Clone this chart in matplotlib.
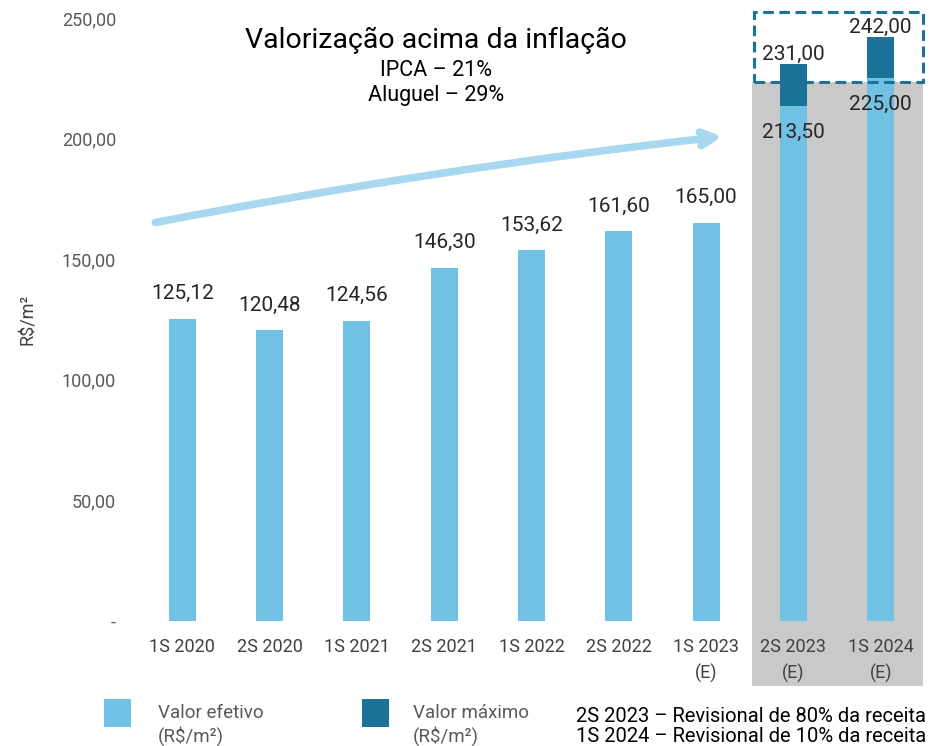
import matplotlib.pyplot as plt
from matplotlib.patches import Rectangle

# dados
periods = ['1S 2020', '2S 2020', '1S 2021', '2S 2021', '1S 2022', '2S 2022',
           '1S 2023\n(E)', '2S 2023\n(E)', '1S 2024\n(E)']
efetivo = [125.12, 120.48, 124.56, 146.30, 153.62, 161.60, 165.00, 213.50, 225.00]
maximo = [None, None, None, None, None, None, None, 231.00, 242.00]
yticks = [0, 50, 100, 150, 200, 250]
ytick_labels = ['-', '50,00', '100,00', '150,00', '200,00', '250,00']

light = '#71C1E5'
dark = '#1B7399'
arrow_c = '#A8D8EF'
gray = '#595959'
txt = '#262626'

plt.rcParams['font.family'] = ['Roboto', 'DejaVu Sans']

fig = plt.figure(figsize=(9.38, 7.46), dpi=100)
ax = fig.add_axes([130 / 938, 125 / 746, 803 / 938, 603 / 746])
ax.set_xlim(-0.6, 8.6)
ax.set_ylim(0, 250)

x = list(range(len(periods)))

# fundo cinza das projeções
ax.add_patch(Rectangle((6.53, -27), 1.95, 223.5 + 27, facecolor='#C9C9C9',
                       edgecolor='none', clip_on=False, zorder=0))
ax.add_patch(Rectangle((6.55, 223.5), 1.93, 29, facecolor='none', edgecolor=dark,
                       linestyle=(0, (3.5, 1.8)), linewidth=2.2, clip_on=False, zorder=3))

w = 0.31
ax.bar(x, efetivo, width=w, color=light, zorder=2)
for i, (e, m) in enumerate(zip(efetivo, maximo)):
    if m is None:
        ax.text(i, e + 10.5, f'{e:.2f}'.replace('.', ','), ha='center', va='center',
                fontsize=15, color=txt)
    else:
        ax.bar(i, m - e, bottom=e, width=w, color=dark, zorder=2)
        ax.text(i, m + 4, f'{m:.2f}'.replace('.', ','), ha='center', va='center',
                fontsize=15, color=txt, zorder=4)
        ax.text(i, e - 11, f'{e:.2f}'.replace('.', ','), ha='center', va='center',
                fontsize=15, color=txt, zorder=4)

# seta
ax.annotate('', xy=(6.22, 201), xytext=(-0.34, 165),
            arrowprops=dict(arrowstyle='->,head_length=1.0,head_width=0.5',
                            color=arrow_c, lw=5.5, connectionstyle='arc3,rad=-0.02',
                            capstyle='round'), zorder=1)

ax.set_xticks(x)
ax.set_xticklabels(periods, fontsize=13, color='#404040', linespacing=1.55)
ax.set_yticks(yticks)
ax.set_yticklabels(ytick_labels, fontsize=13, color=gray)
ax.tick_params(axis='x', length=0, pad=12)
ax.tick_params(axis='y', length=0, pad=10)
for s in ax.spines.values():
    s.set_visible(False)
ax.set_ylabel('R$/m²', fontsize=13, color='#404040', labelpad=18)

fig.text(436 / 938, 1 - 40 / 746, 'Valorização acima da inflação', ha='center', va='center',
         fontsize=20.5, color='black')
fig.text(436 / 938, 1 - 70 / 746, 'IPCA – 21%', ha='center', va='center',
         fontsize=15.5, color='black')
fig.text(436 / 938, 1 - 95 / 746, 'Aluguel – 29%', ha='center', va='center',
         fontsize=15.5, color='black')

# legenda
fig.patches.append(Rectangle((104 / 938, 1 - 727 / 746), 27 / 938, 28 / 746,
                             facecolor=light, transform=fig.transFigure))
fig.patches.append(Rectangle((362 / 938, 1 - 727 / 746), 27 / 938, 28 / 746,
                             facecolor=dark, transform=fig.transFigure))
fig.text(158 / 938, 1 - 725 / 746, 'Valor efetivo\n(R$/m²)', ha='left', va='center',
         fontsize=13.5, color=gray, linespacing=1.25)
fig.text(413 / 938, 1 - 725 / 746, 'Valor máximo\n(R$/m²)', ha='left', va='center',
         fontsize=13.5, color=gray, linespacing=1.25)
fig.text(576 / 938, 1 - 716 / 746, '2S 2023 – Revisional de 80% da receita', ha='left',
         va='center', fontsize=14.5, color='black')
fig.text(576 / 938, 1 - 736 / 746, '1S 2024 – Revisional de 10% da receita', ha='left',
         va='center', fontsize=14.5, color='black')

fig.savefig('out.png', dpi=100)
